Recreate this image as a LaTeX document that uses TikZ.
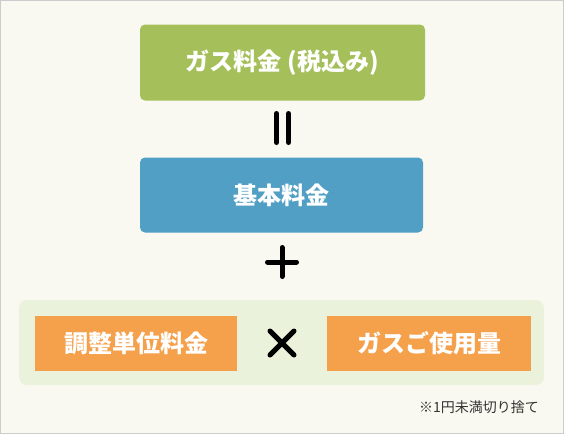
\documentclass[tikz,border=0pt]{standalone}
\usepackage{fontspec}
\setmainfont{Noto Sans CJK JP}
\definecolor{bgc}{HTML}{F9F9F1}
\definecolor{framec}{HTML}{CCCCCC}
\definecolor{gasgreen}{HTML}{A5C05A}
\definecolor{baseblue}{HTML}{519FC5}
\definecolor{panelc}{HTML}{EBF2DC}
\definecolor{orangec}{HTML}{F5A04B}
\definecolor{notec}{HTML}{333333}
\begin{document}
\begin{tikzpicture}[x=1pt,y=-1pt,
  box/.style={rectangle, rounded corners=5pt, text=white, inner sep=0pt,
    font=\bfseries\fontsize{24}{28}\selectfont},
  obox/.style={rectangle, fill=orangec, text=white, inner sep=0pt,
    minimum height=55pt, font=\bfseries\fontsize{24}{28}\selectfont},
  op/.style={line width=5pt, line cap=round, draw=black}]
\fill[bgc, draw=framec, line width=1pt] (0.5,0.5) rectangle (563.5,433.5);
\useasboundingbox (0,0) rectangle (564,434);
\node[box, fill=gasgreen, minimum width=285pt, minimum height=76pt] (gas) at (282.5,62.5) {ガス料金\hspace{6pt}(税込み)};
\node[box, fill=baseblue, minimum width=283pt, minimum height=75pt] (base) at (281.5,195) {基本料金};
\node[rectangle, rounded corners=8pt, fill=panelc, minimum width=525pt, minimum height=85pt, inner sep=0pt] (panel) at (281.5,342.5) {};
\node[obox, minimum width=202pt] (adj) at (136,343) {調整単位料金};
\node[obox, minimum width=204pt] (use) at (429,343) {ガスご使用量};
% equals
\draw[op] (276.5,113.5) -- (276.5,142.5);
\draw[op] (288.5,113.5) -- (288.5,142.5);
% plus
\draw[op] (267.5,262) -- (296.5,262);
\draw[op] (282,247.5) -- (282,276.5);
% times
\draw[op] (270,331) -- (294,355);
\draw[op] (294,331) -- (270,355);
\node[anchor=east, inner sep=0pt, text=notec, font=\fontsize{14}{16}\selectfont] (note) at (539,407) {※1円未満切り捨て};
\end{tikzpicture}
\end{document}
